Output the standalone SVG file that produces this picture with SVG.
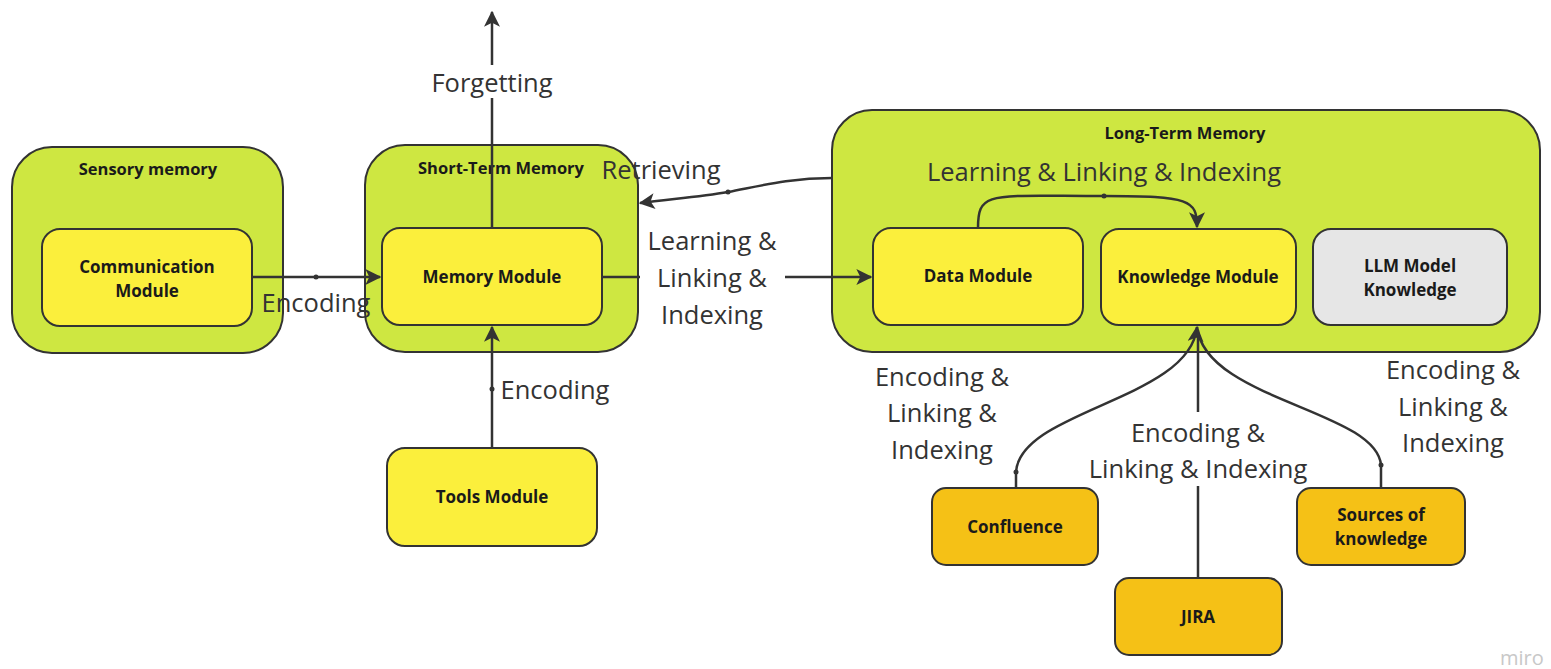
<svg xmlns="http://www.w3.org/2000/svg" width="1551" height="669" viewBox="0 0 1551 669">
<defs>
<style>
.cont{fill:#cee741;stroke:#333;stroke-width:2}
.mod{fill:#fbef3c;stroke:#333;stroke-width:2}
.src{fill:#f5c116;stroke:#333;stroke-width:2}
.gray{fill:#e6e6e6;stroke:#333;stroke-width:2}
.title{font-family:"Open Sans","Liberation Sans",sans-serif;font-weight:bold;font-size:16.5px;fill:#1a1a1a;text-anchor:middle}
.name{font-family:"Open Sans","Liberation Sans",sans-serif;font-weight:bold;font-size:17px;fill:#1a1a1a;text-anchor:middle}
.lbl{font-family:"Open Sans","Liberation Sans",sans-serif;font-size:25.5px;fill:#333;text-anchor:middle}
.edge{fill:none;stroke:#333;stroke-width:2.5}
.dot{fill:#333}
</style>
<marker id="arrb" viewBox="0 0 12 12" refX="11" refY="6" markerWidth="16" markerHeight="16" markerUnits="userSpaceOnUse" orient="auto">
<path d="M0,0 L12,6 L0,12 L3,6 z" fill="#333"/>
</marker>
</defs>
<rect width="1551" height="669" fill="#ffffff"/>

<g id="sensory">
<rect class="cont" x="12" y="147" width="271" height="206" rx="40"/>
<text class="title" x="148" y="175">Sensory memory</text>
</g>
<g id="communication">
<rect class="mod" x="42" y="229" width="210" height="97" rx="18"/>
<text class="name" x="147" y="273">Communication</text>
<text class="name" x="147" y="297">Module</text>
</g>

<g id="short-term">
<rect class="cont" x="365" y="145" width="273" height="207" rx="40"/>
<text class="title" x="501" y="174">Short-Term Memory</text>
</g>
<g id="memory">
<rect class="mod" x="382" y="228" width="220" height="97" rx="18"/>
<text class="name" x="492" y="283">Memory Module</text>
</g>
<g id="tools">
<rect class="mod" x="387" y="448" width="210" height="98" rx="18"/>
<text class="name" x="492" y="503">Tools Module</text>
</g>

<g id="long-term">
<rect class="cont" x="832" y="110" width="708" height="242" rx="40"/>
<text class="title" x="1185" y="139">Long-Term Memory</text>
</g>
<g id="data">
<rect class="mod" x="873" y="228" width="210" height="97" rx="18"/>
<text class="name" x="978" y="282">Data Module</text>
</g>
<g id="knowledge">
<rect class="mod" x="1101" y="229" width="195" height="96" rx="18"/>
<text class="name" x="1198" y="283">Knowledge Module</text>
</g>
<g id="llm">
<rect class="gray" x="1313" y="229" width="194" height="96" rx="18"/>
<text class="name" x="1410" y="272">LLM Model</text>
<text class="name" x="1410" y="296">Knowledge</text>
</g>

<g id="confluence">
<rect class="src" x="932" y="488" width="166" height="77" rx="14"/>
<text class="name" x="1015" y="533">Confluence</text>
</g>
<g id="jira">
<rect class="src" x="1115" y="578" width="167" height="77" rx="14"/>
<text class="name" x="1198" y="623">JIRA</text>
</g>
<g id="sources">
<rect class="src" x="1297" y="488" width="168" height="77" rx="14"/>
<text class="name" x="1381" y="521">Sources of</text>
<text class="name" x="1381" y="545">knowledge</text>
</g>

<g id="connectors">
<path class="edge" d="M252,277 L380,277" marker-end="url(#arrb)"/>
<circle class="dot" cx="316" cy="277" r="2.5"/>
<text class="lbl" x="316" y="312">Encoding</text>

<path class="edge" d="M492,228 L492,98"/>
<path class="edge" d="M492,65 L492,12" marker-end="url(#arrb)"/>
<text class="lbl" x="492" y="92">Forgetting</text>

<path class="edge" d="M492,448 L492,327" marker-end="url(#arrb)"/>
<circle class="dot" cx="492" cy="389" r="2.5"/>
<text class="lbl" x="555" y="399">Encoding</text>

<path class="edge" d="M832,178 C790,178 760,186 728,192 C700,197 670,199 640,203" marker-end="url(#arrb)"/>
<circle class="dot" cx="728" cy="192" r="2.5"/>
<text class="lbl" x="661" y="179">Retrieving</text>

<path class="edge" d="M602,277 L640,277"/>
<path class="edge" d="M785,277 L871,277" marker-end="url(#arrb)"/>
<text class="lbl" x="712" y="250">Learning &amp;</text>
<text class="lbl" x="712" y="287">Linking &amp;</text>
<text class="lbl" x="712" y="324">Indexing</text>

<path class="edge" d="M978,228 C978,190 990,196 1104,196 C1190,196 1197,200 1197,227" marker-end="url(#arrb)"/>
<circle class="dot" cx="1104" cy="196" r="2.5"/>
<text class="lbl" x="1104" y="181">Learning &amp; Linking &amp; Indexing</text>

<path class="edge" d="M1016,488 L1016,472 C1020,410 1190,400 1197,327" marker-end="url(#arrb)"/>
<circle class="dot" cx="1016" cy="472" r="2.5"/>
<path class="edge" d="M1381,488 L1381,465 C1376,410 1205,400 1197,327"/>
<circle class="dot" cx="1381" cy="465" r="2.5"/>
<path class="edge" d="M1198,578 L1198,486"/>
<path class="edge" d="M1198,412 L1198,330"/>

<text class="lbl" x="942" y="386">Encoding &amp;</text>
<text class="lbl" x="942" y="422">Linking &amp;</text>
<text class="lbl" x="942" y="459">Indexing</text>
<text class="lbl" x="1198" y="442">Encoding &amp;</text>
<text class="lbl" x="1198" y="478">Linking &amp; Indexing</text>
<text class="lbl" x="1453" y="379">Encoding &amp;</text>
<text class="lbl" x="1453" y="416">Linking &amp;</text>
<text class="lbl" x="1453" y="452">Indexing</text>
</g>
<text x="1500" y="665" font-family="Open Sans, Liberation Sans, sans-serif" font-size="20" fill="#c8c8c8">miro</text>
</svg>
